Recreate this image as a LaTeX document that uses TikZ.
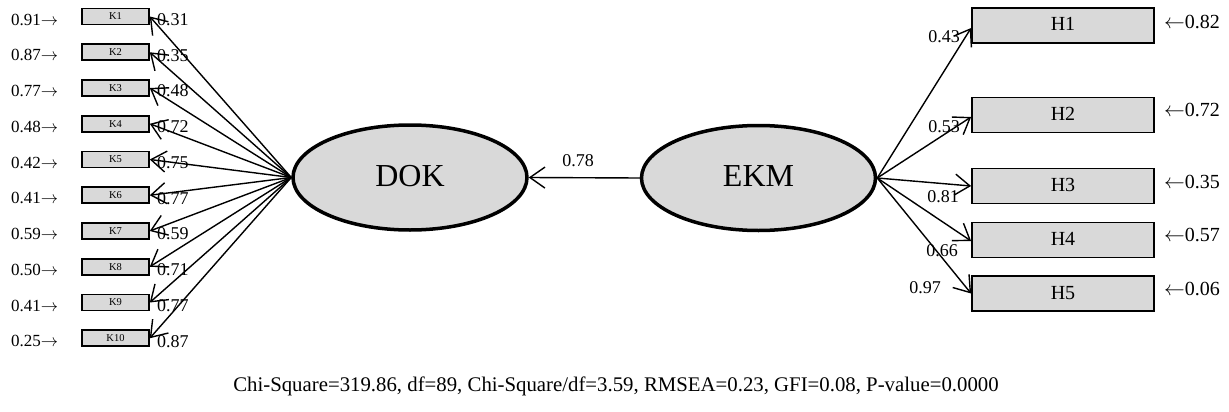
\documentclass[tikz,border=0pt]{standalone}
\usepackage{fontspec}
\setmainfont{Liberation Serif}
\usetikzlibrary{arrows.meta,shapes.geometric}
\begin{document}
\begin{tikzpicture}[x=1pt,y=-1pt,
  kbox/.style={draw,line width=1.6pt,fill=black!15,minimum width=67pt,minimum height=16pt,inner sep=0pt,font=\fontsize{10.5}{10.5}\selectfont},
  hbox/.style={draw,line width=1.8pt,fill=black!15,minimum width=182pt,minimum height=35pt,inner sep=0pt,font=\fontsize{20}{20}\selectfont},
  latent/.style={ellipse,draw,line width=3.5pt,fill=black!15,minimum width=234pt,minimum height=105pt,inner sep=0pt,font=\fontsize{32}{32}\selectfont},
  conn/.style={line width=1.4pt,-{Straight Barb[length=15pt,width=21pt,line width=1.4pt]}},
  lab/.style={font=\fontsize{18}{18}\selectfont,inner sep=0pt},
  errl/.style={font=\fontsize{17}{17}\selectfont,inner sep=0pt,anchor=west},
  errr/.style={font=\fontsize{20}{20}\selectfont,inner sep=0pt,anchor=west}]
\useasboundingbox (0,0) rectangle (1229,412);

% latent variables
\node[latent] (DOK) at (410,177.5) {\raisebox{3pt}{DOK}};
\node[latent] (EKM) at (758.5,178) {\raisebox{3pt}{EKM}};

% K boxes
\foreach \i/\err/\load in {1/0.91/0.31,2/0.87/0.35,3/0.77/0.48,4/0.48/0.72,5/0.42/0.75,6/0.41/0.77,7/0.59/0.59,8/0.50/0.71,9/0.41/0.77,10/0.25/0.87}{
  \pgfmathsetmacro{\yy}{16.5+(\i-1)*35.75}
  \node[kbox] (K\i) at (115.5,\yy) {K\i};
  \node[errl] (e\i) at (11,\yy+3) {\err$\rightarrow$};
  \draw[conn] (DOK.west) -- (K\i.east);
  \node[lab,anchor=west] (l\i) at (157,\yy+3) {\load};
}

% H boxes
\node[hbox] (H1) at (1063,25.5) {\raisebox{3pt}{H1}};
\node[hbox] (H2) at (1063,115) {\raisebox{3pt}{H2}};
\node[hbox] (H3) at (1063,186) {\raisebox{3pt}{H3}};
\node[hbox] (H4) at (1063,240) {\raisebox{3pt}{H4}};
\node[hbox] (H5) at (1063,293.5) {\raisebox{-3pt}{H5}};

\node[errr] (r1) at (1164,22) {$\leftarrow$0.82};
\node[errr] (r2) at (1164,110) {$\leftarrow$0.72};
\node[errr] (r3) at (1164,182) {$\leftarrow$0.35};
\node[errr] (r4) at (1164,235) {$\leftarrow$0.57};
\node[errr] (r5) at (1164,289) {$\leftarrow$0.06};

\draw[conn] (EKM.east) -- ([yshift=-2.5pt]H1.west);
\draw[conn] (EKM.east) -- ([yshift=-2pt]H2.west);
\draw[conn] (EKM.east) -- (H3.west);
\draw[conn] (EKM.east) -- ([yshift=-1pt]H4.west);
\draw[conn] (EKM.east) -- (H5.west);

\node[lab] (m1) at (944,37) {0.43};
\node[lab] (m2) at (944,127) {0.53};
\node[lab] (m3) at (943,197) {0.81};
\node[lab] (m4) at (942,251) {0.66};
\node[lab] (m5) at (925,288) {0.97};

% structural path
\draw[conn] (EKM.west) -- (DOK.east);
\node[lab] (s1) at (578,161) {0.78};

% fit statistics
\node[font=\fontsize{20.8}{20.8}\selectfont,inner sep=0pt] (fit) at (616,386) {Chi-Square=319.86, df=89, Chi-Square/df=3.59, RMSEA=0.23, GFI=0.08, P-value=0.0000};
\end{tikzpicture}
\end{document}
